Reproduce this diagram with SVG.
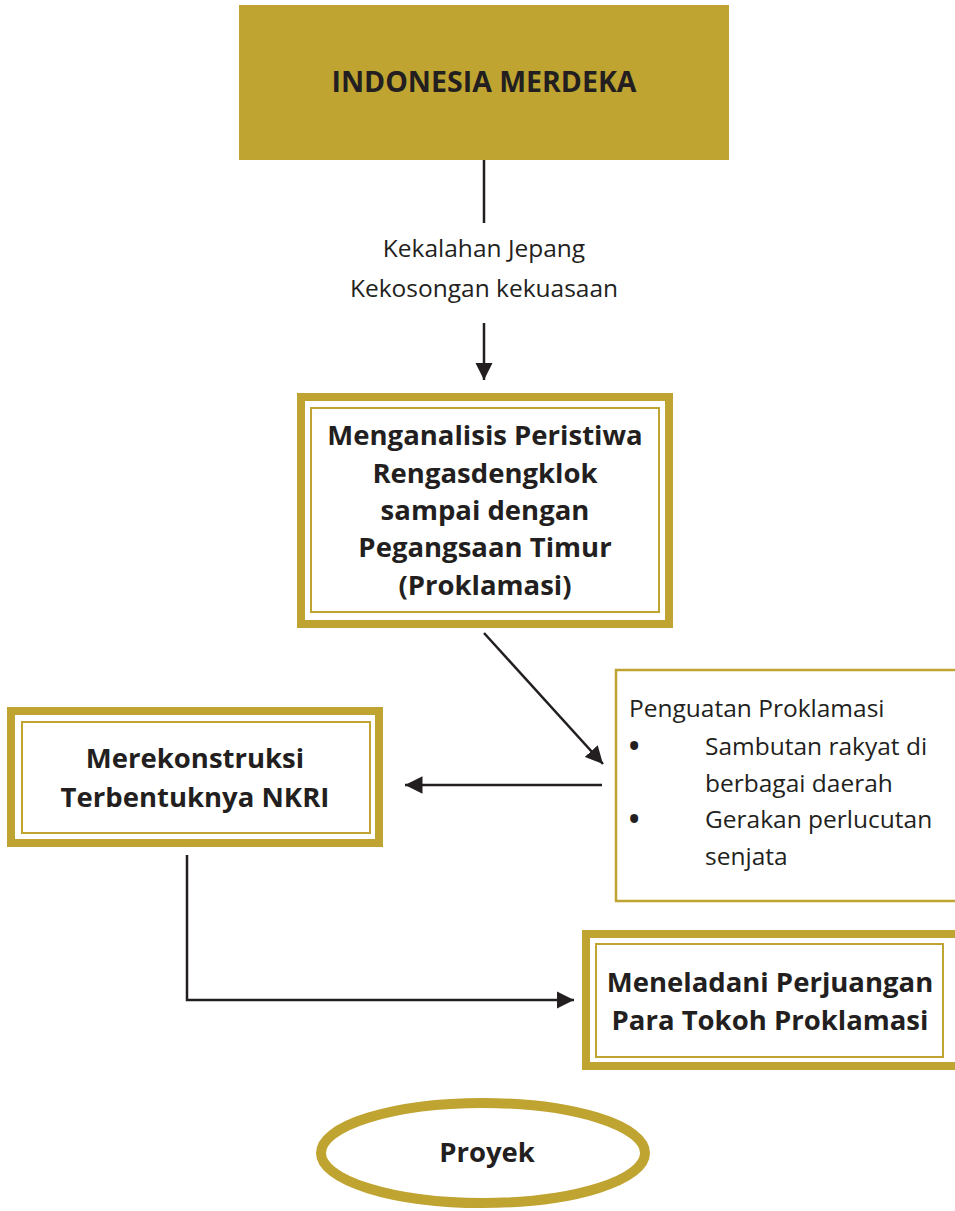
<svg xmlns="http://www.w3.org/2000/svg" width="955" height="1211" viewBox="0 0 955 1211">
<defs>
<style>
.gold{fill:#C0A431}
.outer{fill:#fff;stroke:#C0A431;stroke-width:8}
.inner{fill:none;stroke:#C0A431;stroke-width:2}
.thin{fill:#fff;stroke:#C0A431;stroke-width:2.5}
.b{font-family:"Open Sans","Liberation Sans",sans-serif;font-weight:bold;font-size:27.5px;fill:#231F20;text-anchor:middle}
.r{font-family:"Open Sans","Liberation Sans",sans-serif;font-size:24.5px;fill:#231F20}
.bul{font-family:"Open Sans","Liberation Sans",sans-serif;font-size:38px;fill:#231F20}
.c{text-anchor:middle}
.ln{fill:none;stroke:#231F20;stroke-width:2.5}
</style>
<marker id="ah" viewBox="0 0 10 10" refX="10" refY="5" markerWidth="7" markerHeight="7" markerUnits="strokeWidth" orient="auto">
<path d="M0,0 L10,5 L0,10 Z" fill="#231F20"/>
</marker>
</defs>
<rect width="955" height="1211" fill="#fff"/>
<g id="node-indonesia">
<rect class="gold" x="239" y="5" width="490" height="155"/>
<text class="b" x="484" y="92" style="font-size:28.5px">INDONESIA MERDEKA</text>
</g>
<g id="label-kekalahan">
<text class="r c" x="484" y="257">Kekalahan Jepang</text>
<text class="r c" x="484" y="297">Kekosongan kekuasaan</text>
</g>
<g id="node-menganalisis">
<rect class="outer" x="301" y="397" width="368" height="227"/>
<rect class="inner" x="311" y="408" width="348" height="204"/>
<text class="b" x="485" y="445">Menganalisis Peristiwa</text>
<text class="b" x="485" y="483">Rengasdengklok</text>
<text class="b" x="485" y="520">sampai dengan</text>
<text class="b" x="485" y="557">Pegangsaan Timur</text>
<text class="b" x="485" y="595">(Proklamasi)</text>
</g>
<g id="node-penguatan">
<rect class="thin" x="616" y="670" width="345" height="231"/>
<text class="r" x="629" y="717">Penguatan Proklamasi</text>
<text class="bul" x="627" y="760">•</text>
<text class="r" x="705" y="755">Sambutan rakyat di</text>
<text class="r" x="705" y="792">berbagai daerah</text>
<text class="bul" x="627" y="833">•</text>
<text class="r" x="705" y="828">Gerakan perlucutan</text>
<text class="r" x="705" y="865">senjata</text>
</g>
<g id="node-merekonstruksi">
<rect class="outer" x="11" y="711" width="368" height="132"/>
<rect class="inner" x="22" y="722" width="348" height="111"/>
<text class="b" x="195" y="768">Merekonstruksi</text>
<text class="b" x="195" y="807">Terbentuknya NKRI</text>
</g>
<g id="node-meneladani">
<rect class="outer" x="586" y="934" width="375" height="132"/>
<rect class="inner" x="596" y="944" width="347" height="113"/>
<text class="b" x="770" y="992">Meneladani Perjuangan</text>
<text class="b" x="770" y="1030">Para Tokoh Proklamasi</text>
</g>
<g id="node-proyek">
<ellipse cx="483" cy="1153" rx="162" ry="50" fill="#fff" stroke="#C0A431" stroke-width="10"/>
<text class="b" x="487" y="1162">Proyek</text>
</g>
<g id="connectors">
<line class="ln" x1="484" y1="160" x2="484" y2="223"/>
<line class="ln" x1="484" y1="323" x2="484" y2="380" marker-end="url(#ah)"/>
<line class="ln" x1="484" y1="633" x2="603" y2="764" marker-end="url(#ah)"/>
<line class="ln" x1="602" y1="785" x2="405" y2="785" marker-end="url(#ah)"/>
<polyline class="ln" points="187,855 187,1000 574,1000" marker-end="url(#ah)"/>
</g>
</svg>
